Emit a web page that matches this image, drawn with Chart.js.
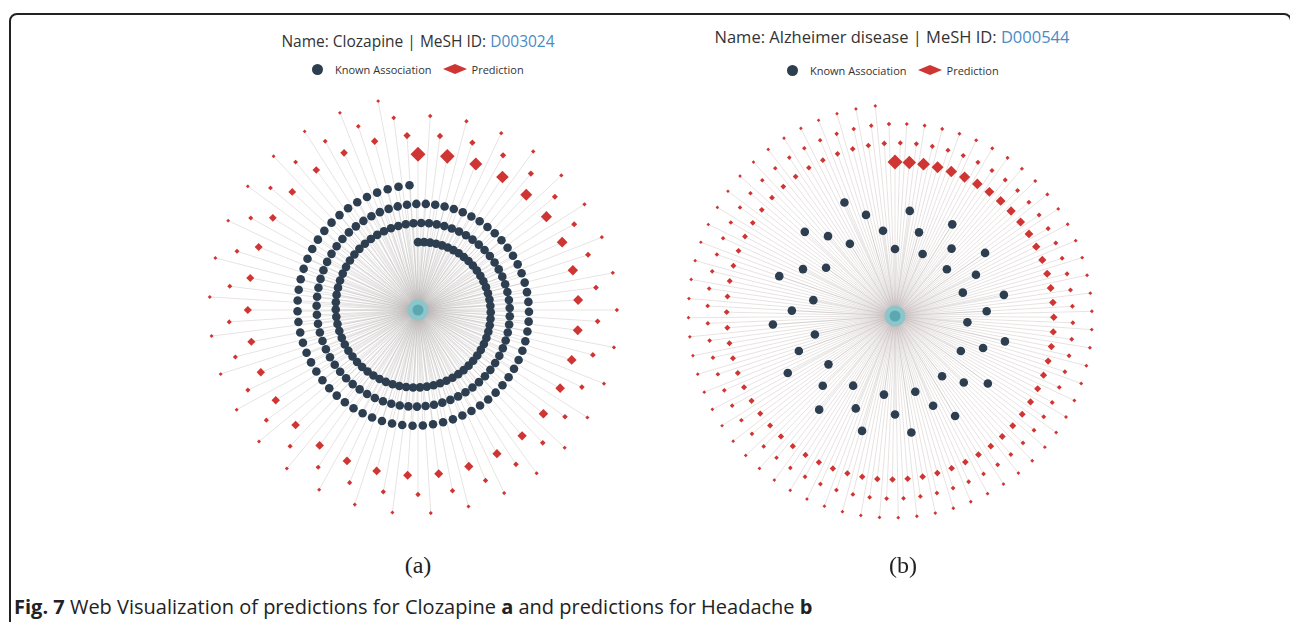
<!DOCTYPE html>
<html>
<head>
<meta charset="utf-8">
<script src="https://cdn.jsdelivr.net/npm/chart.js@4.4.1/dist/chart.umd.min.js"></script>
<style>
    html, body { margin: 0; padding: 0; background: #ffffff; }
    body { width: 1290px; height: 622px; position: relative; overflow: hidden; font-family: "Open Sans", sans-serif; }
    .frame { position: absolute; left: 9px; top: 13px; width: 1283px; height: 660px; box-sizing: border-box; border: 2px solid #222; border-radius: 8px; }
    .title { position: absolute; width: 560px; text-align: center; line-height: 22px; color: #333; white-space: nowrap; }
    .title .id { color: #4a8bc4; }
    .legend { position: absolute; height: 14px; font-size: 11px; color: #333; display: flex; align-items: center; white-space: nowrap; }
    .legend .dot { width: 11px; height: 11px; border-radius: 50%; background: #2c3e50; margin-right: 12px; }
    .legend svg { margin: 0 5px 0 11px; }
    .plot { position: absolute; }
    .panel-label { position: absolute; width: 60px; text-align: center; font-family: "Liberation Serif", "DejaVu Serif", serif; font-size: 24px; line-height: 26px; color: #222; }
    .caption { position: absolute; left: 14px; font-size: 20px; line-height: 28px; color: #222; white-space: nowrap; }
</style>
</head>
<body>
<div class="frame"></div>

<div class="title" id="title-a" style="left:138px; top:30px; font-size:15.5px;"></div>
<div class="legend" style="left:312px; top:62px;">
    <span class="dot"></span>Known Association
    <svg width="24" height="10"><polygon points="0,5 12,0 24,5 12,10" fill="#cf3532"/></svg>Prediction
</div>
<canvas class="plot" id="plot-a" width="480" height="480" style="left:178px; top:70px;"></canvas>
<div class="panel-label" style="left:388px; top:552px;">(a)</div>

<div class="title" id="title-b" style="left:612px; top:26px; font-size:16.5px;"></div>
<div class="legend" style="left:787px; top:63px;">
    <span class="dot"></span>Known Association
    <svg width="24" height="10"><polygon points="0,5 12,0 24,5 12,10" fill="#cf3532"/></svg>Prediction
</div>
<canvas class="plot" id="plot-b" width="480" height="480" style="left:655px; top:76px;"></canvas>
<div class="panel-label" style="left:873px; top:552px;">(b)</div>

<div class="caption" style="top:593px;"><b>Fig. 7</b> Web Visualization of predictions for Clozapine <b>a</b> and predictions for Headache <b>b</b></div>

<script>
"use strict";

// Namen en MeSH ID's van de twee panelen.
const panelNames = ["Clozapine", "Alzheimer disease"];
const meshIds = ["D003024", "D000544"];

// Paneel a: aantal bekende associaties (liggen op de binnenste spiraal).
const knownCountA = 212;

// Paneel a: voorspellingsscores, gesorteerd van hoog naar laag.
const predScoreA = [
    1.00, 0.97, 0.83, 0.80, 0.75, 0.68, 0.65, 0.62, 0.58, 0.58, 0.57, 0.55, 0.55, 0.53, 0.52, 0.52, 0.50,
    0.50, 0.48, 0.48, 0.47, 0.47, 0.45, 0.45, 0.43, 0.43, 0.42, 0.42, 0.40, 0.40, 0.38, 0.38, 0.37, 0.35,
    0.28, 0.28, 0.27, 0.27, 0.25, 0.25, 0.25, 0.23, 0.23, 0.23, 0.22, 0.22, 0.22, 0.22, 0.20, 0.20, 0.20,
    0.20, 0.18, 0.18, 0.18, 0.18, 0.18, 0.17, 0.17, 0.17, 0.17, 0.17, 0.15, 0.15, 0.15, 0.15, 0.15,
    0.12, 0.12, 0.12, 0.12, 0.11, 0.11, 0.11, 0.11, 0.11, 0.10, 0.10, 0.10, 0.10, 0.10, 0.10, 0.09, 0.09,
    0.09, 0.09, 0.09, 0.09, 0.08, 0.08, 0.08, 0.08, 0.08, 0.08, 0.07, 0.07, 0.07, 0.07, 0.07, 0.07
];

// Paneel b: bekende associaties als hoek (graden, met de klok mee vanaf boven) en afstand tot het midden.
const knownAngleB = [
    336, 344, 8, 32, 313, 320, 352, 16, 328, 0, 24, 40, 55, 289, 297, 305, 48, 63, 281, 71, 79, 273, 87,
    266, 95, 257, 103, 250, 118, 110, 234, 242, 142, 226, 211, 134, 126, 188, 165, 219, 203, 157, 180, 149, 196, 172
];
const knownDistB = [
    130, 110, 111, 113, 129, 109, 90, 91, 89, 70, 71, 92, 115, 128, 108, 88, 73, 95, 87, 75, 116, 108, 96,
    128, 76, 86, 118, 107, 78, 98, 86, 127, 80, 105, 85, 100, 120, 83, 82, 126, 105, 102, 103, 122, 125, 123
];

// Paneel b: voorspellingsscores, gesorteerd van hoog naar laag.
const predScoreB = [
    1.00, 0.88, 0.83, 0.75, 0.72, 0.68, 0.63, 0.58, 0.57, 0.53, 0.50, 0.48, 0.45, 0.43, 0.42, 0.40, 0.38, 0.37,
    0.36, 0.36, 0.35, 0.35, 0.34, 0.34, 0.33, 0.33, 0.33, 0.32, 0.32, 0.31, 0.31, 0.30, 0.30, 0.30, 0.29, 0.29,
    0.29, 0.28, 0.28, 0.28, 0.27, 0.27, 0.27, 0.26, 0.26, 0.26, 0.26, 0.25, 0.25, 0.25, 0.25, 0.24, 0.24, 0.24,
    0.24, 0.24, 0.23, 0.23, 0.23, 0.23, 0.23, 0.23, 0.22, 0.22, 0.22, 0.22, 0.22, 0.22,
    0.18, 0.18, 0.18, 0.18, 0.18, 0.18, 0.17, 0.17, 0.17, 0.17, 0.17, 0.17, 0.17, 0.17, 0.17, 0.17,
    0.16, 0.16, 0.16, 0.16, 0.16, 0.16, 0.16, 0.16, 0.16, 0.16, 0.16, 0.16,
    0.15, 0.15, 0.15, 0.15, 0.15, 0.15, 0.15, 0.15, 0.15, 0.15, 0.15, 0.15,
    0.14, 0.14, 0.14, 0.14, 0.14, 0.14, 0.14, 0.14, 0.14, 0.14, 0.14, 0.14, 0.14, 0.14,
    0.13, 0.13, 0.13, 0.13, 0.13, 0.13, 0.13, 0.13, 0.13, 0.13, 0.13, 0.13, 0.13, 0.13,
    0.09, 0.09, 0.09, 0.09, 0.09, 0.09, 0.09, 0.09, 0.09, 0.09,
    0.08, 0.08, 0.08, 0.08, 0.08, 0.08, 0.08, 0.08, 0.08, 0.08, 0.08, 0.08, 0.08, 0.08,
    0.07, 0.07, 0.07, 0.07, 0.07, 0.07, 0.07, 0.07, 0.07, 0.07, 0.07, 0.07, 0.07, 0.07,
    0.06, 0.06, 0.06, 0.06, 0.06, 0.06, 0.06, 0.06, 0.06, 0.06, 0.06, 0.06, 0.06, 0.06, 0.06,
    0.05, 0.05, 0.05, 0.05, 0.05, 0.05, 0.05, 0.05, 0.05, 0.05, 0.05, 0.05, 0.05, 0.05
];

// Kleuren.
const knownColor = "#2c3e50";
const predColor = "#cf3532";

// Zet hoek en afstand om naar x/y in eenheden van de grafiek (1 eenheid = 1 pixel).
function polar(angleDeg, dist) {
    const a = angleDeg * Math.PI / 180;
    return { x: dist * Math.sin(a), y: dist * Math.cos(a) };
}

// Spiraal-layout: elke knoop een vaste hoekstap verder, en per volledige ronde 20 eenheden verder naar buiten.
function spiral(count, startRadius, stepDeg) {
    const points = [];
    for (let i = 0; i < count; i++) {
        const angle = i * stepDeg;
        points.push(polar(angle, startRadius + 20 * angle / 360));
    }
    return points;
}

// Score naar grootte van de ruit.
function sizeFor(score) {
    return 1.5 + 6 * score;
}

// Teken grijze lijnen van het midden naar elke knoop.
const spokes = {
    id: "spokes",
    beforeDatasetsDraw(chart) {
        const ctx = chart.ctx;
        const xScale = chart.scales.x;
        const yScale = chart.scales.y;
        const cx = xScale.getPixelForValue(0);
        const cy = yScale.getPixelForValue(0);

        ctx.save();
        ctx.lineWidth = 0.6;
        chart.data.datasets.forEach((dataset) => {
            if (!dataset.spokeColor) {
                return;
            }
            ctx.strokeStyle = dataset.spokeColor;
            ctx.beginPath();
            dataset.data.forEach((point) => {
                ctx.moveTo(cx, cy);
                ctx.lineTo(xScale.getPixelForValue(point.x), yScale.getPixelForValue(point.y));
            });
            ctx.stroke();
        });
        ctx.restore();
    }
};

function buildChart(canvasId, knownPoints, predPoints, predScores) {
    return new Chart(document.getElementById(canvasId), {
        type: "scatter",
        data: {
            datasets: [
                {
                    label: "centre halo",
                    data: [{ x: 0, y: 0 }],
                    pointRadius: 10.5,
                    backgroundColor: "#8cc6ca",
                    borderWidth: 0,
                    order: 1
                },
                {
                    label: "centre",
                    data: [{ x: 0, y: 0 }],
                    pointRadius: 5.5,
                    backgroundColor: "#5aa9b1",
                    borderWidth: 0,
                    order: 0
                },
                {
                    label: "Known Association",
                    data: knownPoints,
                    pointRadius: 4.3,
                    backgroundColor: knownColor,
                    borderWidth: 0,
                    spokeColor: "rgba(160, 160, 160, 0.5)",
                    order: 2
                },
                {
                    label: "Prediction",
                    data: predPoints,
                    pointStyle: "rectRot",
                    pointRadius: predScores.map(sizeFor),
                    backgroundColor: predColor,
                    borderWidth: 0,
                    spokeColor: "rgba(185, 168, 168, 0.55)",
                    order: 3
                }
            ]
        },
        options: {
            responsive: false,
            animation: false,
            events: [],
            clip: false,
            layout: { padding: 0 },
            scales: {
                x: { type: "linear", display: false, min: -240, max: 240 },
                y: { type: "linear", display: false, min: -240, max: 240 }
            },
            plugins: {
                legend: { display: false },
                tooltip: { enabled: false }
            }
        },
        plugins: [spokes]
    });
}

// Titels.
["title-a", "title-b"].forEach((id, i) => {
    document.getElementById(id).innerHTML =
        `Name: ${panelNames[i]} | MeSH ID: <span class="id">${meshIds[i]}</span>`;
});

// Paneel a: bekende associaties op een spiraal binnen, voorspellingen op een spiraal buiten.
buildChart("plot-a", spiral(knownCountA, 71, 5.1), spiral(predScoreA.length, 163, 10.8), predScoreA);

// Paneel b: bekende associaties verspreid, voorspellingen op een spiraal buiten.
buildChart(
    "plot-b",
    knownAngleB.map((angle, i) => polar(angle, knownDistB[i])),
    spiral(predScoreB.length, 161, 5.32),
    predScoreB
);
</script>
</body>
</html>
